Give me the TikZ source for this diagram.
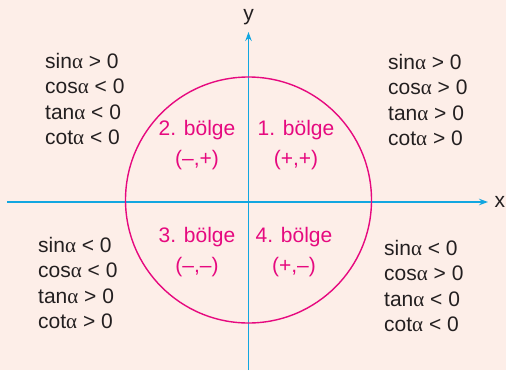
\documentclass[tikz,border=0pt]{standalone}
\usepackage{fontspec}
\setmainfont{Liberation Sans}
\newfontfamily\greekfont{Liberation Serif}
\usetikzlibrary{arrows.meta,positioning}
\definecolor{bgcol}{HTML}{FDEEE8}
\definecolor{axiscol}{HTML}{12A6E0}
\definecolor{regioncol}{HTML}{E6097F}
\definecolor{textcol}{HTML}{231F20}
\newcommand{\al}{{\greekfont α}}

\begin{document}
\begin{tikzpicture}[x=1pt, y=-1pt,
  axis/.style={draw=axiscol, line width=1.3pt, -{Stealth[length=9pt,width=6.5pt]}},
  signs/.style={font=\fontsize{21}{25.5}\selectfont, text=textcol, align=left,
                inner sep=0pt, anchor=north west},
  region/.style={font=\fontsize{21}{30}\selectfont, text=regioncol, align=center,
                 inner sep=0pt, anchor=north},
  axlabel/.style={font=\fontsize{21}{25}\selectfont, text=textcol, inner sep=0pt}]
  \fill[bgcol] (0,0) rectangle (506,370);
  \useasboundingbox (0,0) rectangle (506,370);
  \coordinate (xstart) at (7,202);
  \coordinate (xtip)   at (488,202);
  \coordinate (ystart) at (248.5,370);
  \coordinate (ytip)   at (248.5,32);
  \draw[axis] (xstart) -- (xtip);
  \draw[axis] (ystart) -- (ytip);
  \node[circle, draw=regioncol, line width=1.4pt, minimum size=246pt, inner sep=0pt] (unit) at (248.5,200) {};
  \node[axlabel, right=6.5pt of xtip, anchor=west] (xlab) {x};
  \node[axlabel, above=7pt of ytip] (ylab) {y};
  \node[signs] (q2signs) at (45,53)  {sin\al{} > 0\\cos\al{} < 0\\tan\al{} < 0\\cot\al{} < 0};
  \node[signs] (q1signs) at (388,54) {sin\al{} > 0\\cos\al{} > 0\\tan\al{} > 0\\cot\al{} > 0};
  \node[signs] (q3signs) at (38,237) {sin\al{} < 0\\cos\al{} < 0\\tan\al{} > 0\\cot\al{} > 0};
  \node[signs] (q4signs) at (384,240) {sin\al{} < 0\\cos\al{} > 0\\tan\al{} < 0\\cot\al{} < 0};
  \node[region] (q2) at (197,120) {2. bölge\\(–,+)};
  \node[region] (q1) at (296,120) {1. bölge\\(+,+)};
  \node[region] (q3) at (197,227) {3. bölge\\(–,–)};
  \node[region] (q4) at (294,227) {4. bölge\\(+,–)};
\end{tikzpicture}
\end{document}
